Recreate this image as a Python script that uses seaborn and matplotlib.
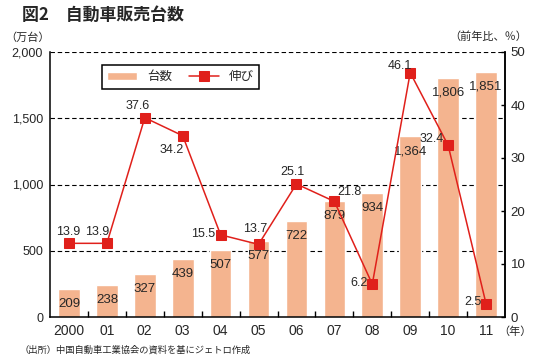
import matplotlib
matplotlib.use('Agg')
import matplotlib.pyplot as plt
import seaborn as sns
import pandas as pd

sns.set_theme(style='white')
plt.rcParams['font.family'] = ['Liberation Sans', 'Noto Sans CJK JP', 'DejaVu Sans']
CJK = ['Noto Sans CJK JP', 'DejaVu Sans']

# データ
years = ['2000', '01', '02', '03', '04', '05', '06', '07', '08', '09', '10', '11']
units = [209, 238, 327, 439, 507, 577, 722, 879, 934, 1364, 1806, 1851]
growth = [13.9, 13.9, 37.6, 34.2, 15.5, 13.7, 25.1, 21.8, 6.2, 46.1, 32.4, 2.5]
unit_labels = ['209', '238', '327', '439', '507', '577', '722', '879', '934', '1,364', '1,806', '1,851']
# 伸び率ラベルの位置 (dx, dy ピクセル, 揃え)
growth_offsets = [(-1, 11, 'center'), (-10, 11, 'center'), (-7, 12, 'center'), (-11, -14, 'center'),
                  (-5, 1, 'right'), (-3, 15, 'center'), (-4, 12, 'center'), (15, 9, 'center'),
                  (-5, 1, 'right'), (-10, 7, 'center'), (-16, 6, 'center'), (-4, 2, 'right')]

df = pd.DataFrame({'年': years, '台数': units, '伸び': growth})

bar_color = '#F4B48F'
line_color = '#E0201B'

fig = plt.figure(figsize=(5.37, 3.61), dpi=100)
ax = fig.add_axes([50 / 537, 44 / 361, 455 / 537, 265 / 361])

sns.barplot(data=df, x='年', y='台数', color=bar_color, width=0.57, ax=ax,
            saturation=1, label='台数')
ax.set_xlim(-0.5, 11.5)
ax.set_ylim(0, 2000)
ax.set_yticks([0, 500, 1000, 1500, 2000])
ax.set_yticklabels(['0', '500', '1,000', '1,500', '2,000'], fontsize=9)
ax.set_xticks(range(len(years)))
ax.set_xticklabels(years, fontsize=10)
ax.set_xticks([i + 0.5 for i in range(len(years) - 1)], minor=True)
ax.tick_params(axis='x', which='major', length=0, pad=5)
ax.tick_params(axis='x', which='minor', direction='in', length=4, width=1, color='black', bottom=True)
ax.tick_params(axis='y', length=0, pad=5)
ax.set_xlabel('')
ax.set_ylabel('')
for y in [500, 1000, 1500, 2000]:
    ax.axhline(y, color='black', lw=0.8, ls=(0, (4, 2.5)), zorder=0)
for s in ['left', 'right', 'bottom']:
    ax.spines[s].set_color('black')
    ax.spines[s].set_linewidth(1.1)
ax.spines['top'].set_visible(False)

for i, (v, lab) in enumerate(zip(units, unit_labels)):
    ax.annotate(lab, (i, v), xytext=(0, -15), textcoords='offset pixels',
                ha='center', va='center', fontsize=9.5)

ax2 = ax.twinx()
sns.lineplot(x=list(range(len(years))), y=growth, ax=ax2, color=line_color, lw=1.1,
             marker='s', markersize=6.5, markeredgecolor=line_color, label='伸び', legend=False)
ax2.set_ylim(0, 50)
ax2.set_yticks([0, 10, 20, 30, 40, 50])
ax2.set_yticklabels(['0', '10', '20', '30', '40', '50'], fontsize=9.5)
ax2.tick_params(axis='y', direction='in', length=3, width=1, color='black', pad=4)
for s in ['top', 'left', 'bottom']:
    ax2.spines[s].set_visible(False)
ax2.spines['right'].set_color('black')
ax2.spines['right'].set_linewidth(1.1)
ax2.set_xlim(-0.5, 11.5)

for i, (g, off) in enumerate(zip(growth, growth_offsets)):
    ax2.annotate(f'{g}', (i, g), xytext=off[:2], textcoords='offset pixels',
                 ha=off[2], va='center', fontsize=9)

h1, l1 = ax.get_legend_handles_labels()
h2, l2 = ax2.get_legend_handles_labels()
if ax.get_legend() is not None:
    ax.get_legend().remove()
leg = ax2.legend(h1 + h2, l1 + l2, loc='upper left', bbox_to_anchor=(0.114, 0.952), ncol=2,
                 prop={'family': CJK, 'size': 9}, frameon=True, fancybox=False, edgecolor='black',
                 handlelength=2.4, handletextpad=0.8, columnspacing=1.3, borderpad=0.45,
                 borderaxespad=0)
leg.get_frame().set_linewidth(1.1)
leg.get_frame().set_alpha(1)

fig.text(22 / 537, 1 - 15 / 361, '図2　自動車販売台数', fontsize=12.2, fontweight='bold',
         va='center', family=CJK)
fig.text(28 / 537, 1 - 38 / 361, '（万台）', fontsize=8, va='center', ha='center', family=CJK)
fig.text(488 / 537, 1 - 37 / 361, '（前年比、％）', fontsize=8, va='center', ha='center', family=CJK)
fig.text(515 / 537, 1 - 332 / 361, '（年）', fontsize=8, va='center', ha='center', family=CJK)
fig.text(20 / 537, 1 - 350 / 361, '（出所）中国自動車工業協会の資料を基にジェトロ作成', fontsize=6.7,
         va='center', family=CJK)

fig.savefig('out.png', dpi=100)
